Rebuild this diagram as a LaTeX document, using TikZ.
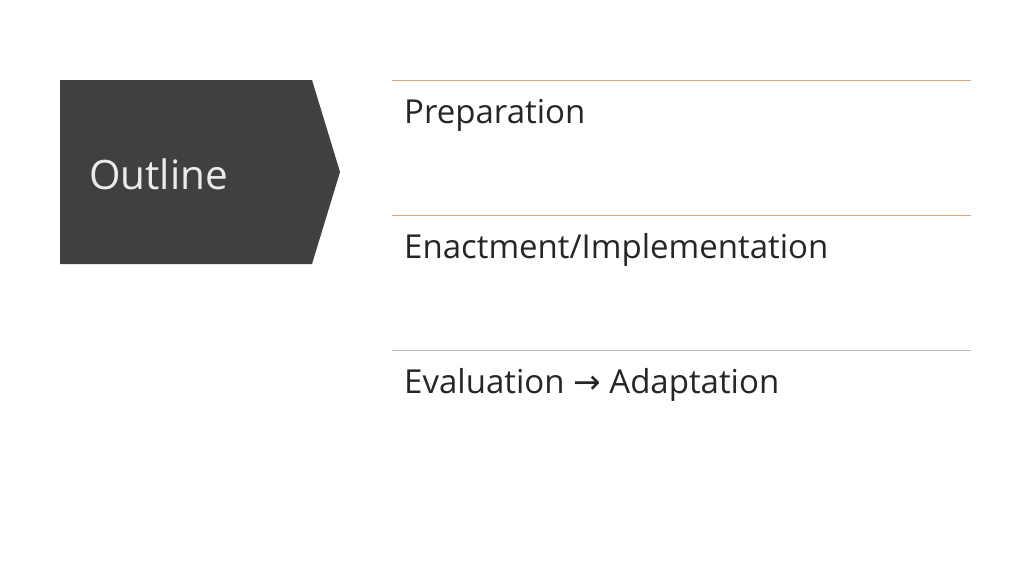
\documentclass[tikz,border=0pt]{standalone}
\usepackage{fontspec}
\setmainfont{Open Sans}
\newfontfamily\symfont{DejaVu Sans}
\definecolor{dark}{HTML}{404040}
\definecolor{orangeline}{HTML}{DDA878}
\definecolor{grayline}{HTML}{BFBFBF}
\begin{document}
\begin{tikzpicture}[x=1pt,y=-1pt,
  item/.style={anchor=base west,font=\fontsize{33}{40}\selectfont,text=black!85,inner sep=0}]
\useasboundingbox (0,0) rectangle (1024,576);
\fill[dark] (60,80) -- (312,80) -- (340,172) -- (312,264) -- (60,264) -- cycle;
\node[anchor=base west,inner sep=0,text=white!92!black,font=\fontsize{40.5}{48}\selectfont] (t) at (89,189) {Outline};
\draw[orangeline,line width=1pt] (392,80) -- (971,80);
\draw[orangeline,line width=1pt] (392,215) -- (971,215);
\draw[grayline,line width=1pt] (392,350) -- (971,350);
\node[item] (a) at (404,123) {Preparation};
\node[item] (b) at (404,258) {Enactment/Implementation};
\node[item] (c) at (404,393) {Evaluation {\symfont\fontsize{33}{36}\selectfont→} Adaptation};
\end{tikzpicture}
\end{document}
